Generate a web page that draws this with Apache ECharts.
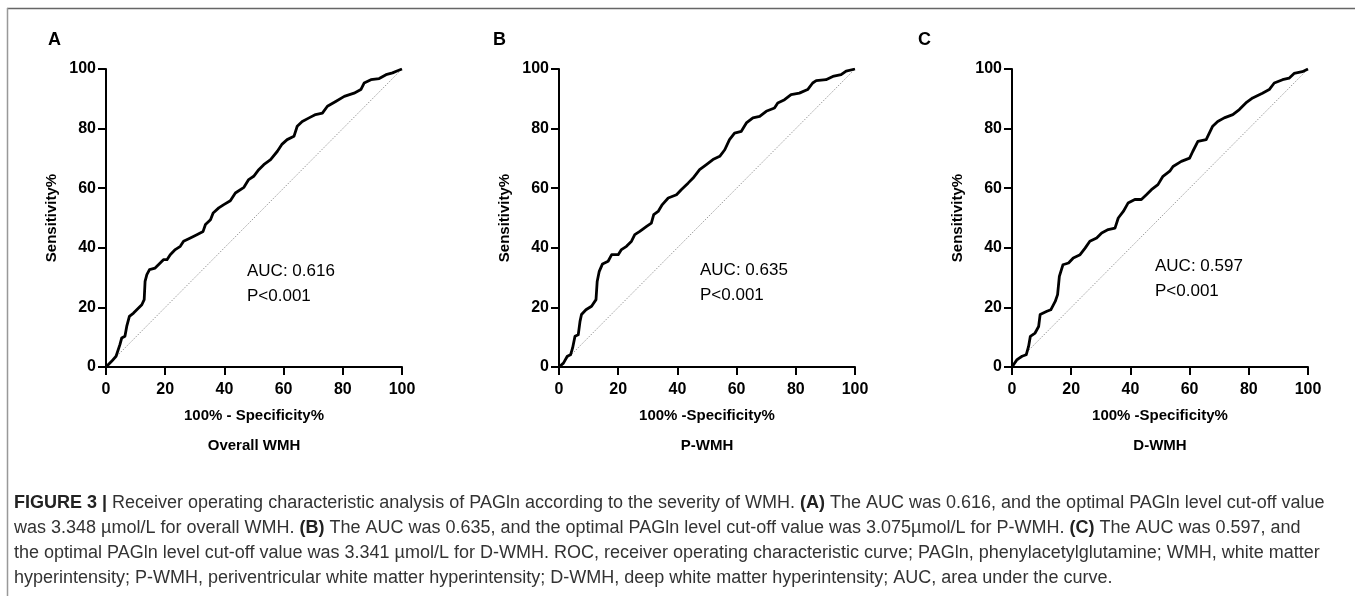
<!DOCTYPE html>
<html>
<head>
<meta charset="utf-8">
<script src="https://cdn.jsdelivr.net/npm/echarts@6/dist/echarts.min.js"></script>
<style>
html,body{margin:0;padding:0;background:#fff;}
#chart{width:1355px;height:596px;}
</style>
</head>
<body>
<div id="chart"></div>
<script>
// ---- data ----
const panelLetters = ['A', 'B', 'C'];
const panelTitles = ['Overall WMH', 'P-WMH', 'D-WMH'];
const xAxisNames = ['100% - Specificity%', '100% -Specificity%', '100% -Specificity%'];
const yAxisName = 'Sensitivity%';
const aucTexts = ['AUC: 0.616', 'AUC: 0.635', 'AUC: 0.597'];
const pTexts = ['P<0.001', 'P<0.001', 'P<0.001'];
const tickValues = [0, 20, 40, 60, 80, 100];
const diagonal = [[0, 0], [100, 100]];

// ROC curve points [100% - specificity, sensitivity]
const rocA = [[0,0],[1.9,1.9],[3.4,3.6],[3.8,4.0],[4.7,7.5],[5.3,9.7],[6.4,10.3],[7.0,13.6],[7.9,17.0],[9.3,18.1],[10.4,19.2],[12.1,20.9],[12.9,22.6],[13.2,28.7],[13.8,31.0],[14.7,32.7],[16.6,33.2],[18.3,34.9],[19.4,36.0],[20.6,36.0],[21.7,37.7],[23.4,39.4],[25.1,40.5],[26.2,42.2],[28.5,43.3],[30.7,44.4],[32.8,45.5],[33.6,47.8],[35.3,49.4],[36.2,51.7],[38.1,53.4],[39.8,54.5],[42.0,55.8],[43.7,58.4],[46.6,60.3],[48.2,62.9],[49.9,64.0],[51.6,66.2],[53.3,67.9],[55.6,69.6],[57.9,72.4],[59.5,74.8],[61.2,76.3],[63.5,77.4],[64.6,80.8],[66.3,82.4],[68.6,83.6],[70.8,84.7],[73.1,85.2],[74.8,87.5],[77.6,89.1],[80.5,90.8],[83.8,91.9],[86.1,93.1],[87.2,95.3],[89.5,96.4],[92.3,96.8],[94.6,98.1],[96.8,98.7],[98.5,99.4],[100,100]];
const rocB = [[0,0],[1.5,1.3],[2.8,3.6],[3.9,4.1],[4.6,6.4],[5.4,10.3],[6.5,10.8],[7.1,15.3],[7.6,17.6],[9.1,19.2],[11.0,20.4],[12.5,22.6],[12.9,28.7],[13.6,32.1],[14.7,34.6],[16.6,35.5],[17.8,37.7],[20.0,37.7],[21.1,39.4],[22.8,40.5],[24.5,42.2],[25.6,44.4],[27.3,45.5],[29.6,47.2],[31.2,48.3],[32.0,51.1],[33.5,52.2],[34.9,54.5],[36.9,56.7],[39.7,57.8],[41.3,59.5],[43.6,61.7],[45.3,63.4],[47.5,66.2],[49.8,67.9],[52.0,69.6],[54.3,70.7],[56.0,72.9],[57.6,76.3],[59.3,78.5],[61.6,79.1],[63.3,81.9],[65.5,83.6],[67.8,84.1],[70.0,85.8],[72.8,86.9],[73.9,88.6],[76.2,89.7],[78.4,91.4],[81.2,91.9],[84.0,93.1],[85.7,95.3],[86.9,96.1],[90.2,96.4],[92.5,97.5],[95.3,98.1],[97.0,99.3],[100,100]];
const rocC = [[0,0],[1.7,2.5],[3.4,3.6],[4.8,4.1],[5.6,6.9],[6.2,10.3],[7.8,11.4],[9.0,13.6],[9.5,17.6],[11.8,18.7],[13.1,19.2],[14.6,22.0],[15.4,24.3],[16.0,30.4],[17.2,34.3],[19.1,34.9],[20.7,36.6],[23.0,37.7],[24.7,39.9],[26.3,42.2],[28.6,43.3],[30.3,45.0],[32.5,46.1],[34.8,46.6],[35.9,50.0],[37.6,52.2],[39.2,55.0],[41.5,56.2],[43.7,56.2],[45.4,57.8],[47.1,59.5],[49.3,61.2],[51.0,64.0],[53.3,65.7],[54.4,67.3],[57.2,69.0],[60.0,70.1],[61.1,72.4],[62.8,75.7],[65.6,76.3],[67.8,80.8],[69.5,82.4],[71.7,83.6],[74.6,84.7],[76.8,86.4],[79.0,88.6],[81.3,90.3],[84.6,91.9],[86.9,93.1],[88.6,95.3],[91.4,96.4],[93.6,96.9],[95.3,98.5],[98.1,99.1],[100,100]];
const rocCurves = [rocA, rocB, rocC];

// caption lines
const captionLines = [
  '{b|FIGURE 3 |} Receiver operating characteristic analysis of PAGln according to the severity of WMH. {b|(A)} The AUC was 0.616, and the optimal PAGln level cut-off value',
  'was 3.348 \u00b5mol/L for overall WMH. {b|(B)} The AUC was 0.635, and the optimal PAGln level cut-off value was 3.075\u00b5mol/L for P-WMH. {b|(C)} The AUC was 0.597, and',
  'the optimal PAGln level cut-off value was 3.341 \u00b5mol/L for D-WMH. ROC, receiver operating characteristic curve; PAGln, phenylacetylglutamine; WMH, white matter',
  'hyperintensity; P-WMH, periventricular white matter hyperintensity; D-WMH, deep white matter hyperintensity; AUC, area under the curve.'
];

// ---- layout ----
const FONT = '"Liberation Sans", Arial, Helvetica, sans-serif';
const gridLefts = [106, 559, 1012];
const gridWidth = 296;
const gridTop = 69;
const gridHeight = 298;
const aucPos = [[247, 271], [700, 270], [1155, 266]];
const letterPos = [[48, 40], [493, 40], [918, 40]];

const chart = echarts.init(document.getElementById('chart'), null, {renderer: 'canvas'});

const grids = [], xAxes = [], yAxes = [], series = [], graphics = [];
for (let i = 0; i < 3; i++) {
  grids.push({left: gridLefts[i], top: gridTop, width: gridWidth, height: gridHeight, containLabel: false});
  const axisCommon = {
    type: 'value', min: 0, max: 100, interval: 20, gridIndex: i,
    axisLine: {show: true, onZero: false, lineStyle: {color: '#000', width: 2}},
    axisTick: {show: true, length: 8, lineStyle: {color: '#000', width: 2}},
    splitLine: {show: false},
    nameTextStyle: {fontFamily: FONT, fontWeight: 'bold', fontSize: 15, color: '#000'}
  };
  xAxes.push(Object.assign({}, axisCommon, {
    position: 'bottom',
    name: xAxisNames[i], nameLocation: 'middle', nameGap: 41,
    axisLabel: {fontFamily: FONT, fontWeight: 'bold', fontSize: 16, color: '#000', margin: 15}
  }));
  yAxes.push(Object.assign({}, axisCommon, {
    position: 'left',
    name: yAxisName, nameLocation: 'middle', nameRotate: 90, nameGap: 47,
    axisLabel: {fontFamily: FONT, fontWeight: 'bold', fontSize: 16, color: '#000', margin: 10}
  }));
  series.push({
    type: 'line', xAxisIndex: i, yAxisIndex: i, data: diagonal, showSymbol: false, silent: true,
    lineStyle: {color: '#9a9a9a', width: 1, type: [1.5, 1.5]}, z: 1, animation: false
  });
  series.push({
    type: 'line', xAxisIndex: i, yAxisIndex: i, data: rocCurves[i], showSymbol: false, silent: true,
    lineStyle: {color: '#000', width: 2.8, join: 'round'}, z: 3, animation: false
  });
  const cx = gridLefts[i] + gridWidth / 2;
  graphics.push({type: 'text', x: letterPos[i][0], y: letterPos[i][1],
    style: {text: panelLetters[i], font: 'bold 18px ' + FONT, fill: '#000', verticalAlign: 'middle'}});
  graphics.push({type: 'text', x: cx, y: 446,
    style: {text: panelTitles[i], font: 'bold 15px ' + FONT, fill: '#000', align: 'center', verticalAlign: 'middle'}});
  graphics.push({type: 'text', x: aucPos[i][0], y: aucPos[i][1],
    style: {text: aucTexts[i], font: '17px ' + FONT, fill: '#000', verticalAlign: 'middle'}});
  graphics.push({type: 'text', x: aucPos[i][0], y: aucPos[i][1] + 25,
    style: {text: pTexts[i], font: '17px ' + FONT, fill: '#000', verticalAlign: 'middle'}});
}

// border lines
graphics.push({type: 'line', shape: {x1: 7, y1: 8.5, x2: 1355, y2: 8.5}, style: {stroke: '#666', lineWidth: 1.5}});
graphics.push({type: 'line', shape: {x1: 7.5, y1: 8, x2: 7.5, y2: 596}, style: {stroke: '#999', lineWidth: 1.5}});

// caption
const capY = [503, 528, 553, 578];
captionLines.forEach((t, k) => {
  graphics.push({type: 'text', x: 14, y: capY[k],
    style: {text: t, font: '18px ' + FONT, fill: '#333', verticalAlign: 'middle',
      rich: {b: {fontWeight: 'bold', fontSize: 18, fontFamily: FONT, fill: '#222'}}}});
});

chart.setOption({
  backgroundColor: '#fff',
  animation: false,
  grid: grids,
  xAxis: xAxes,
  yAxis: yAxes,
  series: series,
  graphic: graphics
});
</script>
</body>
</html>
